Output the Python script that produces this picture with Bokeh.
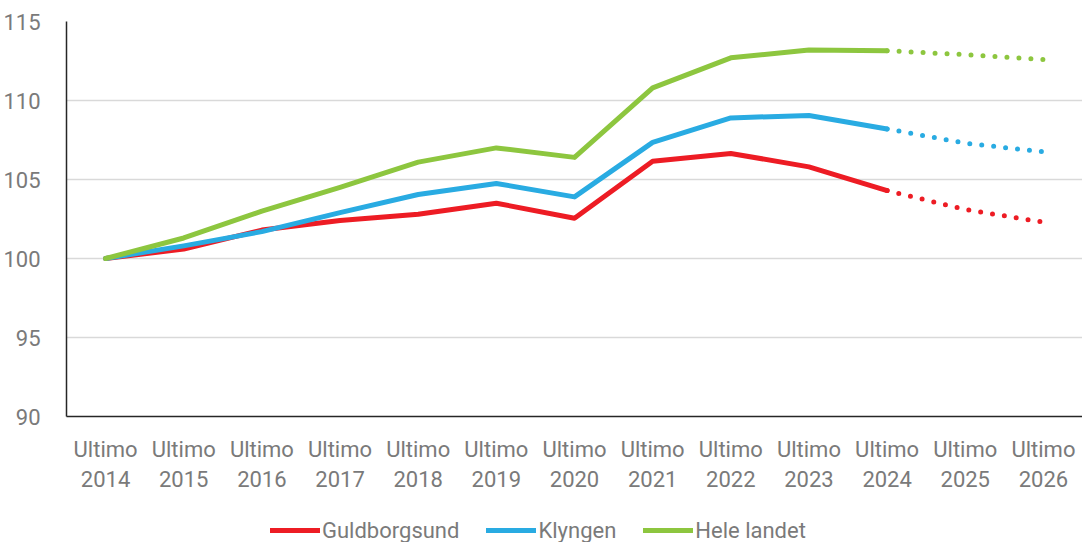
from bokeh.plotting import figure
from bokeh.layouts import column
from bokeh.models import Range1d, FixedTicker, Legend, LegendItem
from bokeh.embed import file_html
from bokeh.resources import INLINE

years = ["2014", "2015", "2016", "2017", "2018", "2019", "2020",
         "2021", "2022", "2023", "2024", "2025", "2026"]
tick_labels = ["Ultimo\n" + y for y in years]

guldborgsund = [100.0, 100.6, 101.8, 102.4, 102.8, 103.5, 102.55,
                106.15, 106.65, 105.8, 104.3, 103.1, 102.3]
klyngen = [100.0, 100.8, 101.7, 102.9, 104.05, 104.75, 103.9,
           107.35, 108.9, 109.05, 108.2, 107.3, 106.75]
hele_landet = [100.0, 101.3, 103.0, 104.5, 106.1, 107.0, 106.4,
               110.8, 112.7, 113.2, 113.15, 112.9, 112.6]

series = [("Guldborgsund", guldborgsund, "#ED1C24"),
          ("Klyngen", klyngen, "#29ABE2"),
          ("Hele landet", hele_landet, "#8DC63F")]

FONT = "Roboto"
TXT = "#7a7a7a"
n_actual = 11  # through 2024
xs = list(range(len(years)))

p = figure(x_range=Range1d(-0.5, len(years) - 0.5), y_range=Range1d(90, 115),
           frame_width=1016, frame_height=395,
           output_backend="svg", toolbar_location=None,
           min_border_left=54, min_border_right=0, min_border_top=21,
           min_border_bottom=84)
p.outline_line_color = None
p.xgrid.grid_line_color = None
p.ygrid.grid_line_color = "#d9d9d9"
p.ygrid.grid_line_width = 1.5
p.yaxis.ticker = FixedTicker(ticks=[90, 95, 100, 105, 110, 115])
p.xaxis.ticker = FixedTicker(ticks=xs)
p.xaxis.major_label_overrides = {i: t for i, t in zip(xs, tick_labels)}

for ax in (p.xaxis, p.yaxis):
    ax.axis_line_color = "#262626"
    ax.axis_line_width = 1.5
    ax.major_tick_line_color = None
    ax.minor_tick_line_color = None
    ax.major_label_text_font = FONT
    ax.major_label_text_font_size = "22px"
    ax.major_label_text_color = TXT
p.xaxis.major_label_standoff = 14
p.yaxis.major_label_standoff = 20

for name, vals, col in series:
    p.line(xs[:n_actual], vals[:n_actual], line_color=col, line_width=5,
           line_join="round", line_cap="round")
    p.line(xs[n_actual - 1:], vals[n_actual - 1:], line_color=col, line_width=5,
           line_dash="0 12", line_cap="round")

# legend strip below the chart (its lines lie outside its own view range)
lg = figure(width=1075, height=60, x_range=Range1d(0, 1), y_range=Range1d(0, 1),
            x_axis_type=None, y_axis_type=None, output_backend="svg",
            toolbar_location=None, min_border=0)
lg.outline_line_color = None
items = []
for name, vals, col in series:
    r = lg.line(xs[:2], vals[:2], line_color=col, line_width=5, line_cap="round")
    items.append(LegendItem(label=name, renderers=[r]))

legend = Legend(items=items, orientation="horizontal", location=(204, 17),
                label_text_font=FONT, label_text_font_size="22px",
                label_text_color=TXT, glyph_width=50, glyph_height=26,
                label_standoff=2, spacing=27, padding=0, margin=0,
                border_line_color=None, background_fill_alpha=0)
lg.add_layout(legend)

layout = column(p, lg, spacing=0)
open("out.html", "w").write(file_html(layout, INLINE))
